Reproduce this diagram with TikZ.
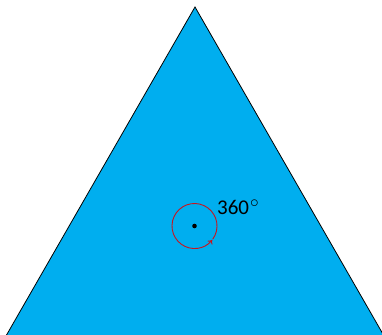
\documentclass[tikz,border=0pt]{standalone}
\usepackage{fontspec}
\setmainfont{Carlito}
\usetikzlibrary{arrows.meta,calc}
\definecolor{tri}{RGB}{0,174,239}
\definecolor{arcred}{RGB}{200,20,30}
\begin{document}
\begin{tikzpicture}[x=1pt,y=-1pt,
  tribox/.style={fill=tri,draw=black,line width=0.8pt},
  turn/.style={draw=arcred,line width=0.9pt,-{To[length=4pt,width=6pt]}}]
\useasboundingbox (0,0) rectangle (382,334);
\clip (0,0) rectangle (382,334);
\coordinate (apex) at (195,7);
\coordinate (bl) at (2.5,342);
\coordinate (br) at (387.5,342);
\draw[tribox] (apex) -- (bl) -- (br) -- cycle;
\coordinate (c) at (194.5,226);
\fill (c) circle (2.3pt);
\draw[turn] ($(c)+(396:22.5)$) arc[start angle=396,end angle=38,radius=22.5];
\node[anchor=base west,inner sep=0pt,font=\fontsize{21}{24}\selectfont] (lbl) at (217,214) {360\kern1pt\raisebox{7pt}{\fontsize{18}{20}\selectfont$\circ$}};
\end{tikzpicture}
\end{document}
